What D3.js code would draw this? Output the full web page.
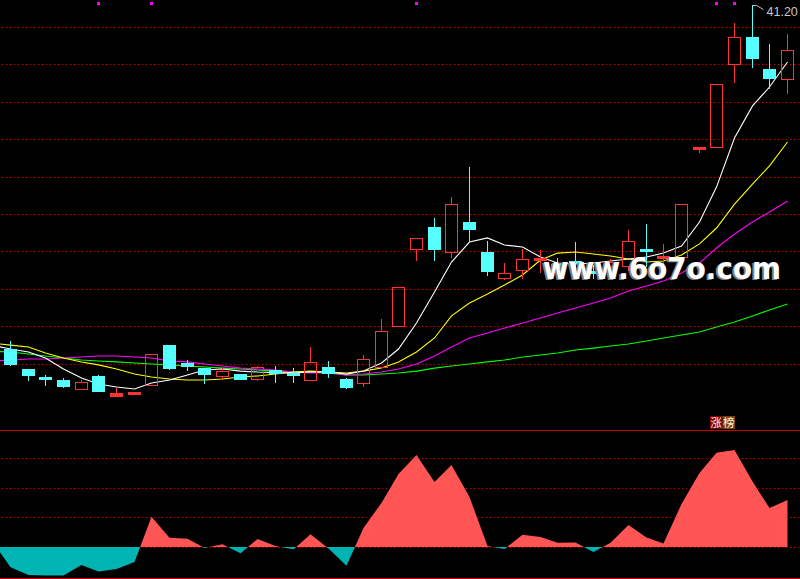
<!DOCTYPE html>
<html><head><meta charset="utf-8">
<script src="https://cdn.jsdelivr.net/npm/d3@7"></script>
<style>html,body{margin:0;padding:0;background:#000;overflow:hidden}svg{display:block}</style>
</head><body><svg id="c" width="800" height="579"></svg>
<script>
// ---------- data ----------
const days = d3.range(45);
const open  = [22.78,21.71,21.28,21.12,20.64,21.34,20.27,20.37,20.86,22.99,22.03,21.76,21.34,21.44,21.18,21.66,21.50,21.12,21.82,21.18,20.96,21.82,24.01,28.13,29.30,27.97,29.57,27.97,26.58,27.01,27.54,27.33,27.49,26.95,27.22,27.22,28.13,27.65,27.70,33.48,33.58,38.02,39.47,37.75,37.22];
const close = [21.98,21.39,21.18,20.80,21.02,20.53,20.43,20.48,22.51,21.76,21.87,21.44,21.60,21.18,21.82,21.50,21.39,22.09,21.50,20.75,22.25,23.74,26.10,28.72,28.13,30.53,29.20,26.95,26.84,27.59,27.65,27.11,27.38,26.84,27.43,28.56,28.02,27.75,30.53,33.58,36.95,39.47,38.34,37.27,38.77];
const high  = [23.21,21.71,21.39,21.23,21.12,21.39,20.70,20.48,22.51,22.99,22.19,21.76,21.76,21.44,21.87,21.87,21.76,22.89,22.14,21.23,22.46,24.39,26.10,28.72,29.79,30.91,32.51,28.56,27.38,28.13,28.07,27.65,28.50,27.27,27.59,29.14,29.47,28.40,30.53,33.58,36.95,40.21,41.20,39.09,39.63];
const low   = [21.93,21.12,20.86,20.75,20.64,20.53,20.27,20.37,20.86,21.71,21.66,20.96,21.23,21.18,21.12,21.02,21.02,21.12,21.28,20.70,20.80,21.82,24.01,27.54,27.54,27.70,28.50,26.74,26.52,26.58,26.90,26.58,26.58,26.58,26.84,27.01,27.22,27.38,27.70,33.32,33.58,37.06,37.86,36.74,36.47];

// indicator series: first value belongs to the day just left of the visible window
const ma5  = [22.96,22.78,22.62,22.30,21.71,21.23,20.91,20.75,20.64,20.96,21.12,21.39,21.66,21.71,21.60,21.55,21.52,21.50,21.55,21.55,21.44,21.60,22.03,22.78,24.17,25.83,27.43,28.50,28.72,28.34,28.24,27.70,27.38,27.33,27.38,27.49,27.59,27.70,27.91,28.29,29.57,31.44,34.06,35.78,36.79,38.13];
const ma10 = [23.09,22.99,22.89,22.57,22.30,22.09,21.93,21.71,21.44,21.28,21.18,21.12,21.12,21.18,21.28,21.34,21.44,21.55,21.60,21.55,21.50,21.60,21.76,22.09,22.62,23.37,24.55,25.24,25.72,26.20,26.74,27.54,27.91,27.97,27.86,27.75,27.59,27.43,27.49,27.81,28.40,29.25,30.53,31.60,32.57,33.85];
const ma20 = [22.14,22.19,22.25,22.25,22.30,22.35,22.41,22.41,22.35,22.30,22.14,22.09,21.98,21.87,21.76,21.71,21.66,21.55,21.50,21.50,21.39,21.44,21.55,21.71,21.98,22.41,22.89,23.37,23.64,23.90,24.17,24.44,24.71,24.97,25.24,25.51,25.88,26.15,26.42,26.84,27.38,28.18,28.93,29.57,30.11,30.70];
const ma60 = [22.65,22.62,22.51,22.41,22.30,22.19,22.14,22.09,22.03,21.98,21.93,21.87,21.82,21.76,21.71,21.66,21.60,21.55,21.55,21.50,21.39,21.39,21.44,21.50,21.60,21.76,21.87,21.98,22.09,22.19,22.35,22.46,22.57,22.73,22.83,22.94,23.05,23.21,23.37,23.53,23.69,23.96,24.22,24.55,24.87,25.19];
const osc  = [1.3,-6.8,-9.5,-9.6,-9.6,-6.1,-8.3,-7.4,-5.1,10.2,3.1,2.8,-0.3,0.9,-2.1,2.7,0.3,-0.8,4.3,-0.5,-6.3,6.4,14.9,24.7,31.1,22.0,27.7,16.9,0.3,-0.7,4.1,3.4,1.4,1.5,-1.7,1.4,7.4,3.2,1.2,14.5,25.0,31.8,32.8,22.1,13.2,15.9];

const priceGrid = [22,24,26,28,30,32,34,36,38,40];
const oscGrid = [0,10,20,30];
const signalDays = [5,8,23,40,41];
const tagText = ["涨","榜"];
const watermark = "www.6o7o.com";

// ---------- styles / layout ----------
const W = 800, H = 579;
const RED = "#ff3333", CYAN = "#55ffff", GRID = "#c00000";
const svg = d3.select("#c");
svg.append("rect").attr("width", W).attr("height", H).attr("fill", "#000");

const x = d3.scaleBand().domain(days).range([1.7, 796]).paddingInner(0.28).paddingOuter(0.14);
const cx = i => Math.round(x(0) + i * x.step()) + 6.5;      // candle centre for day index i
const sx = (d, k) => cx(k - 1);                               // series index k -> day k-1
const y = d3.scaleLinear().domain([20, 40]).range([401, 27]);
const yo = d3.scaleLinear().domain([0, 30]).range([547, 458.2]);
const oscTop = 430, oscBottom = 578;

// grid lines (price panel)
svg.append("g").selectAll("line").data(priceGrid).join("line")
  .attr("x1", 2).attr("x2", W)
  .attr("y1", d => Math.round(y(d)) + 0.5).attr("y2", d => Math.round(y(d)) + 0.5)
  .attr("stroke", GRID).attr("stroke-width", 1).attr("stroke-dasharray", "1,3");

// oscillator panel grid
svg.append("g").selectAll("line").data(oscGrid).join("line")
  .attr("x1", 2).attr("x2", W)
  .attr("y1", d => Math.round(yo(d)) + 0.5).attr("y2", d => Math.round(yo(d)) + 0.5)
  .attr("stroke", GRID).attr("stroke-width", 1).attr("stroke-dasharray", "1,3");
[oscTop, oscBottom].forEach(v => svg.append("line").attr("x1", 0).attr("x2", W)
  .attr("y1", v + 0.5).attr("y2", v + 0.5).attr("stroke", "#c80000").attr("stroke-width", 1));

// oscillator area, red above zero, cyan below
const defs = svg.append("defs");
const y0 = yo(0);
defs.append("clipPath").attr("id", "above").append("rect").attr("x", 0).attr("y", oscTop + 1).attr("width", W).attr("height", y0 - oscTop - 1);
defs.append("clipPath").attr("id", "below").append("rect").attr("x", 0).attr("y", y0).attr("width", W).attr("height", oscBottom - y0);
const area = d3.area().x(sx).y0(y0).y1(d => yo(d));
svg.append("path").datum(osc).attr("d", area).attr("fill", "#ff5555").attr("clip-path", "url(#above)");
svg.append("path").datum(osc).attr("d", area).attr("fill", "#00b4b4").attr("clip-path", "url(#below)");

// moving averages
defs.append("clipPath").attr("id", "pricePanel").append("rect").attr("x", 0).attr("y", 0).attr("width", W).attr("height", 420);
const line = d3.line().x(sx).y(d => y(d));
const mg = svg.append("g").attr("clip-path", "url(#pricePanel)");
[[ma60, "#00ff00"], [ma20, "#ff00ff"], [ma10, "#ffff00"], [ma5, "#ffffff"]].forEach(([s, c]) => {
  mg.append("path").datum(s).attr("d", line).attr("fill", "none").attr("stroke", c).attr("stroke-width", 1.1);
});

// candles
const cg = svg.append("g");
days.forEach(i => {
  const x0 = Math.round(x(i));
  const wx = x0 + 6.5;
  const o = Math.round(y(open[i])), c = Math.round(y(close[i]));
  const h = Math.round(y(high[i])), l = Math.round(y(low[i]));
  const up = close[i] >= open[i];
  if (up) {
    const top = c, bot = o;
    if (h < top) cg.append("line").attr("x1", wx).attr("x2", wx).attr("y1", h).attr("y2", top).attr("stroke", RED);
    if (l > bot) cg.append("line").attr("x1", wx).attr("x2", wx).attr("y1", bot + 1).attr("y2", l + 1).attr("stroke", RED);
    if (bot - top < 4) {
      cg.append("rect").attr("x", x0).attr("y", top).attr("width", 13).attr("height", Math.max(2, bot - top + 1)).attr("fill", RED);
    } else {
      cg.append("rect").attr("x", x0 + 0.5).attr("y", top + 0.5).attr("width", 12).attr("height", bot - top)
        .attr("fill", "none").attr("stroke", RED).attr("stroke-width", 1);
    }
  } else {
    cg.append("line").attr("x1", wx).attr("x2", wx).attr("y1", h).attr("y2", l + 1).attr("stroke", CYAN);
    cg.append("rect").attr("x", x0).attr("y", o).attr("width", 13).attr("height", Math.max(2, c - o + 1)).attr("fill", CYAN);
  }
});

// signal markers on top
svg.append("g").selectAll("rect").data(signalDays).join("rect")
  .attr("x", d => Math.round(x(d)) + 5).attr("y", 2).attr("width", 3).attr("height", 3).attr("fill", "#ff00ff");

// max price label
const maxV = d3.max(high), maxI = high.indexOf(maxV);
const hx = cx(maxI), hy = Math.round(y(maxV)) + 0.5;
svg.append("path").attr("d", `M${hx},${hy}H${hx + 4}L${hx + 11},${hy + 4}`)
  .attr("fill", "none").attr("stroke", "#c0c0c0").attr("stroke-width", 1);
svg.append("text").attr("x", hx + 14).attr("y", hy + 10)
  .attr("font-family", "'Liberation Sans', Arial, sans-serif").attr("font-size", 12.5)
  .attr("fill", "#c8c8c8").text(maxV.toFixed(2));

// tag label
const tg = svg.append("g").attr("transform", "translate(710,416)");
tagText.forEach((t, k) => {
  tg.append("rect").attr("x", k * 12.5).attr("y", 0).attr("width", 12.5).attr("height", 13)
    .attr("fill", k === 0 ? "#800000" : "#804000");
  tg.append("text").attr("x", k * 12.5 + 6.25).attr("y", 11).attr("text-anchor", "middle")
    .attr("font-family", "'Noto Sans CJK SC', sans-serif").attr("font-size", 11.5)
    .attr("fill", "#fff0f0").text(t);
});

// watermark
const wm = svg.append("g").attr("font-family", "'DejaVu Sans', Verdana, sans-serif")
  .attr("font-weight", "bold").attr("font-size", 31);
wm.append("text").attr("x", 541).attr("y", 280).attr("fill", "#808080")
  .attr("textLength", 238).attr("lengthAdjust", "spacingAndGlyphs").text(watermark);
wm.append("text").attr("x", 543).attr("y", 279).attr("fill", "#ffffff")
  .attr("textLength", 238).attr("lengthAdjust", "spacingAndGlyphs").text(watermark);
</script>
</body></html>
